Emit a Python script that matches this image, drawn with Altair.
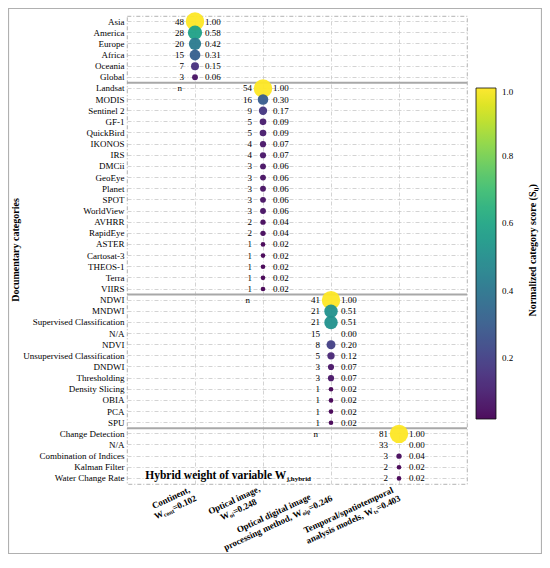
import json
import altair as alt
import pandas as pd

# ---------------- data ----------------
groups = ["cont", "oi", "oip", "ts"]

cont_names = ["Asia", "America", "Europe", "Africa", "Oceania", "Global"]
cont_counts = [48, 28, 20, 15, 7, 3]
cont_scores = [1.00, 0.58, 0.42, 0.31, 0.15, 0.06]

oi_names = ["Landsat", "MODIS", "Sentinel 2", "GF-1", "QuickBird", "IKONOS", "IRS",
            "DMCii", "GeoEye", "Planet", "SPOT", "WorldView", "AVHRR", "RapidEye",
            "ASTER", "Cartosat-3", "THEOS-1", "Terra", "VIIRS"]
oi_counts = [54, 16, 9, 5, 5, 4, 4, 3, 3, 3, 3, 3, 2, 2, 1, 1, 1, 1, 1]
oi_scores = [1.00, 0.30, 0.17, 0.09, 0.09, 0.07, 0.07, 0.06, 0.06, 0.06, 0.06, 0.06,
             0.04, 0.04, 0.02, 0.02, 0.02, 0.02, 0.02]

oip_names = ["NDWI", "MNDWI", "Supervised Classification", "N/A", "NDVI",
             "Unsupervised Classification", "DNDWI", "Thresholding", "Density Slicing",
             "OBIA", "PCA", "SPU"]
oip_counts = [41, 21, 21, 15, 8, 5, 3, 3, 1, 1, 1, 1]
oip_scores = [1.00, 0.51, 0.51, 0.00, 0.20, 0.12, 0.07, 0.07, 0.02, 0.02, 0.02, 0.02]

ts_names = ["Change Detection", "N/A", "Combination of Indices", "Kalman Filter",
            "Water Change Rate"]
ts_counts = [81, 33, 3, 2, 2]
ts_scores = [1.00, 0.00, 0.04, 0.02, 0.02]

# x-axis label text: (text, is_subscript)
xlab_lines = {
    "cont": [[("Continent,", False)],
             [("W", False), ("cont", True), ("=0.102", False)]],
    "oi": [[("Optical image,", False)],
           [("W", False), ("oi", True), ("=0.248", False)]],
    "oip": [[("Optical digital image", False)],
            [("processing method, W", False), ("oip", True), ("=0.246", False)]],
    "ts": [[("Temporal/spatiotemporal", False)],
           [("analysis models, W", False), ("ts", True), ("=0.403", False)]],
}
hybrid_main = "Hybrid weight of variable W"
hybrid_sub = "j,hybrid"
cbar_main = "Normalized category score (S"
cbar_sub = "ij"
cbar_end = ")"
ytitle = "Documentary categories"

# ---------------- table ----------------
rows = []
names_all = []
for g, nm, ct, sc in [("cont", cont_names, cont_counts, cont_scores),
                      ("oi", oi_names, oi_counts, oi_scores),
                      ("oip", oip_names, oip_counts, oip_scores),
                      ("ts", ts_names, ts_counts, ts_scores)]:
    for n, c, s in zip(nm, ct, sc):
        rows.append({"row": len(names_all), "name": n, "col": g, "count": c, "score": s})
        names_all.append(n)
df = pd.DataFrame(rows)
group_start = [len(cont_names), len(cont_names) + len(oi_names),
               len(cont_names) + len(oi_names) + len(oip_names)]
n_df = pd.DataFrame({"row": group_start, "col": groups[:3], "t": ["n"] * 3})
sep_df = pd.DataFrame({"row": group_start})

# ---------------- metrics (Times/Liberation Serif Bold) ----------------
BOLD = {' ': 250, ',': 250, '.': 250, '/': 278, '=': 570, '(': 333, ')': 333,
        'A': 722, 'C': 722, 'D': 722, 'H': 778, 'N': 722, 'O': 778, 'S': 556, 'T': 667, 'W': 1000,
        'a': 500, 'b': 556, 'c': 444, 'd': 556, 'e': 444, 'f': 333, 'g': 500, 'h': 556,
        'i': 278, 'j': 333, 'k': 556, 'l': 278, 'm': 833, 'n': 556, 'o': 500, 'p': 556,
        'q': 556, 'r': 444, 's': 389, 't': 333, 'u': 556, 'v': 500, 'w': 722, 'x': 500,
        'y': 500, 'z': 444}


def tw(s, size):
    return sum(BOLD.get(ch, 500) for ch in s) / 1000.0 * size


SERIF = "Liberation Serif"
W, H = 340, 468

xaxis = alt.Axis(labels=False, ticks=False, domain=False, title=None, grid=True)
yaxis = alt.Axis(labelExpr=json.dumps(names_all) + "[datum.value]", labelFont=SERIF,
                 labelFontSize=9, labelColor="black", labelPadding=3, ticks=False,
                 domain=False, title=None, labelLimit=300, grid=True)
xscale = alt.Scale(type="point", domain=groups, padding=1)
yscale = alt.Scale(paddingInner=0, paddingOuter=0)


def X():
    return alt.X("col:N", scale=xscale, axis=xaxis)


def Y(**kw):
    return alt.Y("row:O", scale=yscale, axis=yaxis, **kw)


layers = []

# separators between groups
layers.append(alt.Chart(sep_df).mark_rule(color="#a8a8a8", strokeWidth=2).encode(
    y=Y(bandPosition=0)))

# bubbles
bub = df[df["score"] > 0]
layers.append(alt.Chart(bub).mark_circle(opacity=0.95).encode(
    x=X(), y=Y(),
    color=alt.Color("score:Q", title=None,
                    scale=alt.Scale(scheme="viridis", domain=[0.02, 1.0]),
                    legend=alt.Legend(orient="none", legendX=349, legendY=72,
                                      direction="vertical", gradientLength=331,
                                      gradientThickness=20, values=[0.2, 0.4, 0.6, 0.8, 1.0],
                                      format=".1f", labelFont=SERIF, labelFontSize=9,
                                      labelColor="black", labelOffset=6,
                                      gradientStrokeColor="black", gradientStrokeWidth=0.8)),
    size=alt.Size("score:Q", scale=alt.Scale(domain=[0, 1], range=[15, 340]), legend=None),
))

# counts and scores
layers.append(alt.Chart(df).mark_text(align="right", baseline="middle", dx=-11,
                                      font=SERIF, fontSize=9, color="black").encode(
    x=X(), y=Y(), text=alt.Text("count:Q")))
layers.append(alt.Chart(df).mark_text(align="left", baseline="middle", dx=10,
                                      font=SERIF, fontSize=9, color="black").encode(
    x=X(), y=Y(), text=alt.Text("score:Q", format=".2f")))
layers.append(alt.Chart(n_df).mark_text(align="right", baseline="middle", dx=-13,
                                        font=SERIF, fontSize=9, color="black").encode(
    x=X(), y=Y(), text="t:N"))

# rotated x labels
MAIN, SUB = 9, 6
uR, v0, lh = -5.0, 2.25, 10.5
for g in groups:
    lines = xlab_lines[g]
    widths = [sum(tw(t, SUB if s else MAIN) for t, s in ln) for ln in lines]
    maxw = max(widths)
    for i, ln in enumerate(lines):
        u = uR - maxw / 2 - widths[i] / 2
        v = v0 + i * lh
        for t, s in ln:
            size = SUB if s else MAIN
            layers.append(alt.Chart(pd.DataFrame({"col": [g]})).mark_text(
                angle=335, align="left", baseline="middle", dx=u, dy=v + (2.5 if s else 0),
                font=SERIF, fontSize=size, fontWeight="bold", color="black").encode(
                x=X(), y=alt.value(H), text=alt.value(t)))
            u += tw(t, size)

# "Hybrid weight" annotation
hx = 18 + tw(hybrid_main, 11.5)
hyb = pd.DataFrame({"row": [len(names_all) - 1]})
layers.append(alt.Chart(hyb).mark_text(align="right", baseline="middle", dy=-2, font=SERIF,
                                       fontSize=11.5, fontWeight="bold", color="black").encode(
    x=alt.value(hx), y=Y(), text=alt.value(hybrid_main)))
layers.append(alt.Chart(hyb).mark_text(align="left", baseline="middle", dy=1, font=SERIF,
                                       fontSize=7, fontWeight="bold", color="black").encode(
    x=alt.value(hx + 0.5), y=Y(), text=alt.value(hybrid_sub)))

# colour bar title (rotated, with subscript)
CT = 10
tot = tw(cbar_main, CT) + tw(cbar_sub, 6.5) + tw(cbar_end, CT)
up = -tot / 2 + tw(cbar_main, CT)
one = pd.DataFrame({"a": [0]})
for t, size, al, dx, dy in [(cbar_main, CT, "right", up, 0),
                            (cbar_sub, 6.5, "left", up, 2.5),
                            (cbar_end, CT, "left", up + tw(cbar_sub, 6.5), 0)]:
    layers.append(alt.Chart(one).mark_text(angle=270, align=al, baseline="middle", dx=dx, dy=dy,
                                           font=SERIF, fontSize=size, fontWeight="bold",
                                           color="black").encode(
        x=alt.value(406), y=alt.value(234.5), text=alt.value(t)))

# y title
layers.append(alt.Chart(one).mark_text(angle=270, align="center", baseline="middle", font=SERIF,
                                       fontSize=10, fontWeight="bold", color="black").encode(
    x=alt.value(-111), y=alt.value(234), text=alt.value(ytitle)))

# outer frame
layers.append(alt.Chart(one).mark_rect(filled=False, color="#b0b0b0", strokeWidth=1.2).encode(
    x=alt.value(-118.5), x2=alt.value(414.5), y=alt.value(-7.5), y2=alt.value(537.5)))

chart = alt.layer(*layers).properties(
    width=W, height=H,
    autosize=alt.AutoSizeParams(type="none"),
    padding={"left": 119, "top": 8, "right": 75, "bottom": 70},
    background="white",
).configure_view(
    stroke="#a0a0a0", strokeDash=[4, 2, 1, 2], strokeWidth=0.8
).configure_axis(
    gridColor="#c8c8c8", gridDash=[4, 2, 1, 2], gridWidth=0.8
)

chart.save("out.html", embed_options={"renderer": "svg", "actions": False})
